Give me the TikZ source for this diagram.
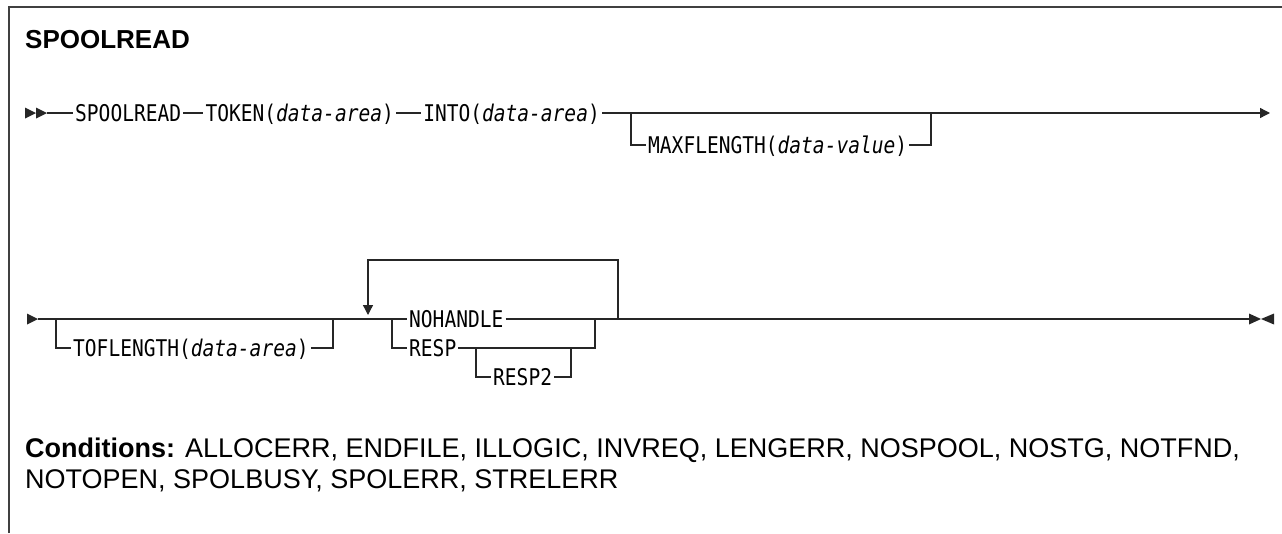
\documentclass[tikz,border=0pt]{standalone}
\usepackage{fontspec}
\setmainfont{Liberation Sans}
\newfontfamily\railfont[FakeStretch=0.85]{DejaVu Sans Mono}
\usetikzlibrary{positioning,arrows.meta}

\tikzset{
	rail/.style={line width=1.3pt, black!85},
	tipfill/.style={fill=black!85},
	kw/.style={font=\railfont\fontsize{23}{23}\selectfont, inner xsep=2pt, inner ysep=0pt, text height=16pt, text depth=0pt},
	endtip/.style={-{Triangle[length=10pt,width=10pt]}}
}

\begin{document}
\begin{tikzpicture}[x=1pt,y=-1pt]
	
	\useasboundingbox (0,0) rectangle (1282,533);
	
	% Frame
	\draw[line width=1.2pt, black!75] (9,533) -- (9,7) -- (1282,7);
	
	% Title
	\node[anchor=base west, inner sep=0, font=\bfseries\fontsize{26}{26}\selectfont] (title) at (25,48) {SPOOLREAD};
	
	% First row
	\coordinate (r1s) at (25,113);
	\node[kw, anchor=west] (spool) at (73,113) {SPOOLREAD};
	\node[kw, right=20pt of spool] (token) {TOKEN(\textit{data-area})};
	\node[kw, right=25pt of token] (into) {INTO(\textit{data-area})};
	\coordinate (mxl) at (631,113);
	\coordinate (mxr) at (931,113);
	\node[kw, anchor=west] (maxf) at (646,145) {MAXFLENGTH(\textit{data-value})};
	\coordinate (r1e) at (1270,113);
	
	\fill[tipfill] (r1s) -- ++(0,-5.5) -- ++(11,5.5) -- ++(-11,5.5) -- cycle;
	\fill[tipfill] ([xshift=11pt]r1s) -- ++(0,-5.5) -- ++(11,5.5) -- ++(-11,5.5) -- cycle;
	\draw[rail] ([xshift=22pt]r1s) -- (spool.west);
	\draw[rail] (spool) -- (token);
	\draw[rail] (token) -- (into);
	\draw[rail, endtip] (into.east) -- (r1e);
	\draw[rail] (mxl) |- (maxf.west);
	\draw[rail] (maxf.east) -| (mxr);
	
	% Second row
	\coordinate (r2s) at (27,319);
	\coordinate (tfl) at (56,319);
	\coordinate (tfr) at (333,319);
	\node[kw, anchor=west] (tof) at (71,348) {TOFLENGTH(\textit{data-area})};
	\node[kw, anchor=west] (nohandle) at (407,319) {NOHANDLE};
	\node[kw, anchor=west] (resp) at (407,348) {RESP};
	\node[kw, anchor=west] (resp2) at (491,377) {RESP2};
	\coordinate (chl) at (392,319);
	\coordinate (chr) at (595,319);
	\coordinate (r2l) at (476,348);
	\coordinate (r2r) at (571,348);
	\coordinate (lpr) at (618,319);
	\coordinate (lpl) at (368,260);
	\coordinate (lptip) at (368,315);
	\coordinate (r2e) at (1249,319);
	
	\fill[tipfill] (r2s) -- ++(0,-5.5) -- ++(11,5.5) -- ++(-11,5.5) -- cycle;
	\draw[rail] ([xshift=11pt]r2s) -- (nohandle.west);
	\draw[rail] (tfl) |- (tof.west);
	\draw[rail] (tof.east) -| (tfr);
	\draw[rail] (chl) |- (resp.west);
	\draw[rail] (resp.east) -| (chr);
	\draw[rail] (r2l) |- (resp2.west);
	\draw[rail] (resp2.east) -| (r2r);
	\draw[rail] (nohandle.east) -- (r2e);
	\draw[rail, endtip] (lpr) |- (lpl) -- (lptip);
	
	% End marker
	\fill[tipfill] (r2e) -- ++(0,-5.5) -- ++(12,5.5) -- ++(-12,5.5) -- cycle;
	\fill[tipfill] ([xshift=25pt]r2e) -- ++(0,-5.5) -- ++(-13,5.5) -- ++(13,5.5) -- cycle;
	
	% Conditions
	\node[anchor=base west, inner sep=0, align=left, font=\fontsize{27}{31}\selectfont] (cond) at (25,488)
	{\textbf{Conditions:} ALLOCERR, ENDFILE, ILLOGIC, INVREQ, LENGERR, NOSPOOL, NOSTG, NOTFND,\\NOTOPEN, SPOLBUSY, SPOLERR, STRELERR};
	
\end{tikzpicture}
\end{document}
